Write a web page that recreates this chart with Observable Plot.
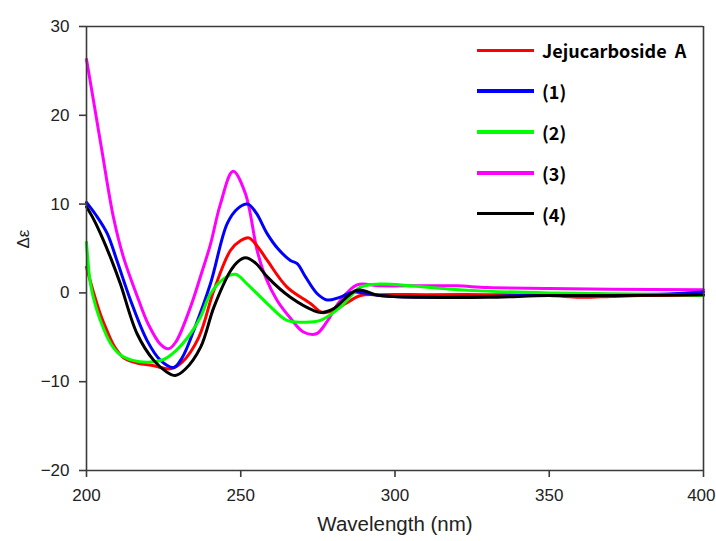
<!DOCTYPE html>
<html>
<head>
<meta charset="utf-8">
<script src="https://cdn.jsdelivr.net/npm/d3@7"></script>
<script src="https://cdn.jsdelivr.net/npm/@observablehq/plot@0.6"></script>
<style>
  body { margin: 0; background: #fff; }
  #wrap { position: relative; width: 716px; height: 541px; }
  #legend { position: absolute; left: 477px; top: 30px; font-family: "Noto Sans CJK KR", "Noto Sans", sans-serif; font-weight: bold; font-size: 18px; color: #000; }
  .row { display: flex; align-items: center; height: 40.8px; }
  .sw { width: 57px; height: 3.5px; margin-right: 8px; }
</style>
</head>
<body>
<div id="wrap"><div id="legend"></div></div>
<script>
const seriesNames = ["Jejucarboside  A", "(1)", "(2)", "(3)", "(4)"];
const seriesColors = ["#ff0000", "#0000ff", "#00ff00", "#ff00ff", "#000000"];

const jejuX = [200, 202.4, 204.5, 206.7, 209, 212, 216.4, 221.8, 227.2, 231, 236.4, 241.3, 246.7, 250, 252.6, 255.5, 258.6, 265, 272.6, 276.4, 280, 284, 288.8, 295, 310, 330, 350, 360, 370, 380, 400];
const jejuY = [2.9, -0.1, -2.4, -4.3, -6.0, -7.3, -7.9, -8.2, -8.55, -7.8, -5.0, 0.3, 4.8, 5.9, 6.2, 5.2, 3.65, 0.65, -1.2, -2.2, -2.0, -1.2, -0.3, -0.2, -0.2, -0.2, -0.3, -0.5, -0.4, -0.3, -0.3];

const c1X = [200, 203, 206.7, 210, 214.3, 219.7, 224, 228.3, 231, 234.8, 240.2, 245.6, 249, 252.3, 255, 258.6, 262, 266.1, 268.3, 271, 274.8, 278, 282, 286.6, 295, 310, 330, 350, 370, 390, 400];
const c1Y = [10.2, 8.8, 6.7, 3.5, -0.85, -5.4, -7.6, -8.4, -7.3, -4.2, 1.05, 7.8, 9.5, 10.0, 9.0, 6.65, 5.0, 3.65, 3.3, 1.8, -0.1, -0.8, -0.5, 0.1, -0.3, -0.5, -0.4, -0.2, -0.2, -0.1, 0.1];

const c2X = [200, 201.3, 202.8, 204.5, 207.8, 211, 215, 220, 225, 229, 233.7, 237, 240.2, 244.5, 248.3, 252.1, 258.6, 265, 270.4, 275.8, 282.3, 288.8, 295.3, 305, 317, 330, 350, 370, 390, 400];
const c2Y = [5.7, 1.0, -1.3, -3.1, -5.7, -7.0, -7.6, -7.8, -7.5, -6.5, -4.6, -2.7, -0.1, 1.6, 2.1, 1.0, -1.2, -3.1, -3.3, -3.1, -1.6, 0.65, 1.0, 0.8, 0.45, 0.2, 0.0, -0.1, -0.2, -0.3];

const c3X = [200, 202, 205, 208.8, 212, 216.9, 220, 224, 226.6, 229, 233.7, 237, 240.2, 243.4, 247.5, 251.5, 255.3, 258, 261.8, 266, 270.3, 274.5, 278, 282, 287.7, 295, 310, 320, 330, 350, 370, 400];
const c3Y = [26.3, 22.2, 16.0, 8.4, 4.0, -0.8, -3.5, -5.8, -6.3, -5.5, -1.6, 1.9, 5.5, 10.0, 13.7, 11.2, 4.8, 1.8, -0.85, -2.8, -4.4, -4.6, -3.2, -1.0, 0.9, 0.8, 0.8, 0.8, 0.6, 0.5, 0.4, 0.35];

const c4X = [200, 202, 204.5, 208, 211, 216.4, 221.8, 226, 228.8, 232, 237, 241.3, 246.7, 249, 251.5, 255, 258.6, 266.1, 273.7, 276, 280, 287.7, 295, 310, 330, 350, 370, 400];
const c4Y = [9.7, 8.5, 6.7, 3.8, 1.0, -4.6, -7.6, -8.9, -9.3, -8.6, -6.1, -1.6, 2.5, 3.5, 3.95, 3.3, 1.8, -0.5, -2.0, -2.2, -1.8, 0.3, -0.3, -0.5, -0.5, -0.3, -0.3, -0.2];

const xTicks = [200, 250, 300, 350, 400];
const yTicks = [-20, -10, 0, 10, 20, 30];

const allX = [jejuX, c1X, c2X, c3X, c4X];
const allY = [jejuY, c1Y, c2Y, c3Y, c4Y];
const rows = [];
allX.forEach((xs, s) => xs.forEach((x, i) => rows.push({series: seriesNames[s], x, y: allY[s][i]})));

const lastTick = xTicks[xTicks.length - 1];
const axisColor = "#3a3a3a";
const chart = Plot.plot({
  width: 716,
  height: 541,
  marginLeft: 86,
  marginRight: 13,
  marginTop: 26,
  marginBottom: 71,
  style: { fontFamily: "'Liberation Sans', Arial, sans-serif", color: "#222", background: "transparent" },
  x: { domain: [200, 400] },
  y: { domain: [-20, 30] },
  color: { domain: seriesNames, range: seriesColors },
  marks: [
    Plot.lineY(rows.filter(d => d.series === "(3)"), {x: "x", y: "y", stroke: "series", strokeWidth: 3, curve: "catmull-rom"}),
    Plot.lineY(rows.filter(d => d.series !== "(3)"), {x: "x", y: "y", stroke: "series", z: "series", strokeWidth: 3, curve: "catmull-rom"}),
    Plot.ruleY([30], {stroke: axisColor, strokeWidth: 1.6}),
    Plot.ruleX([400], {stroke: axisColor, strokeWidth: 1.6}),
    Plot.ruleX([200], {stroke: axisColor, strokeWidth: 1.6}),
    Plot.ruleY([-20], {stroke: axisColor, strokeWidth: 1.6}),
    Plot.axisX({ticks: xTicks, tickSize: 7, tickPadding: 11, fontSize: 17, label: null, stroke: axisColor, strokeWidth: 1.6,
      tickFormat: d => d === lastTick ? "" : String(d)}),
    Plot.axisX({ticks: [lastTick], tickSize: 0, tickPadding: 18, fontSize: 17, label: null, textAnchor: "end", dx: 12}),
    Plot.axisY({ticks: yTicks, tickSize: 7, tickPadding: 10, fontSize: 17, label: null, stroke: axisColor, strokeWidth: 1.6}),
    Plot.text(["Wavelength (nm)"], {frameAnchor: "bottom", dy: 60, fontSize: 20.5, fill: "#222"}),
    Plot.text(["Δε"], {frameAnchor: "left", dx: -63, rotate: -90, fontSize: 17, fill: "#222"})
  ]
});
document.getElementById("wrap").prepend(chart);

const legend = document.getElementById("legend");
seriesNames.forEach((name, i) => {
  const row = document.createElement("div");
  row.className = "row";
  const sw = document.createElement("span");
  sw.className = "sw";
  sw.style.background = seriesColors[i];
  const t = document.createElement("span");
  t.textContent = name;
  t.style.whiteSpace = "pre";
  row.append(sw, t);
  legend.append(row);
});
</script>
</body>
</html>
